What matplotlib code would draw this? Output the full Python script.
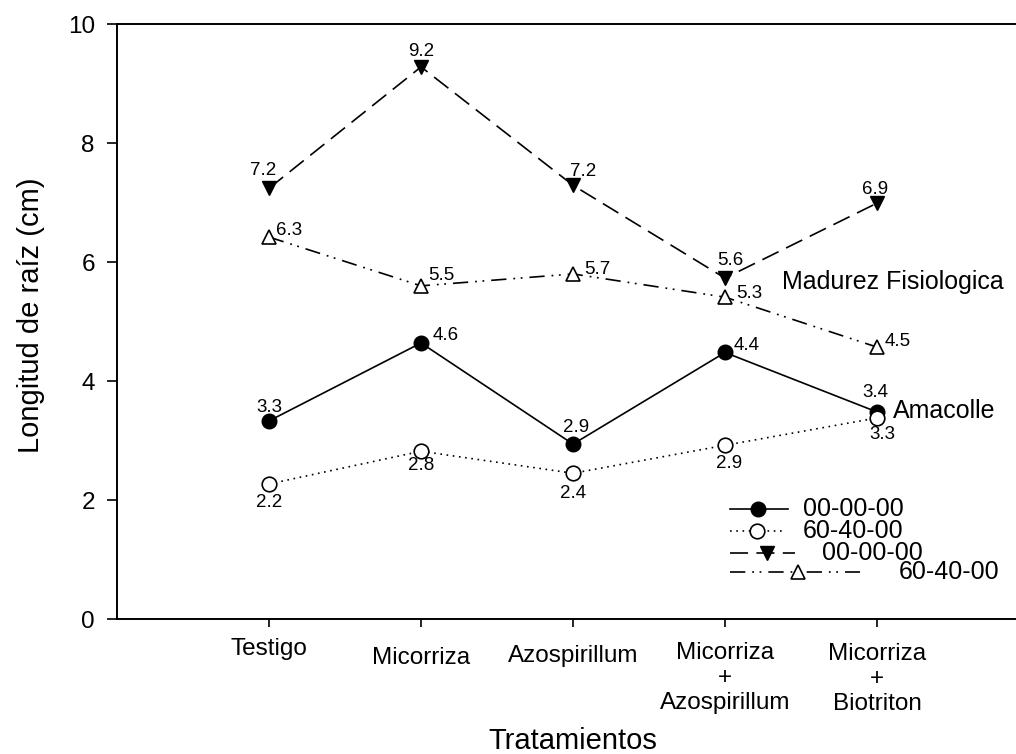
import matplotlib
matplotlib.use("Agg")
import matplotlib.pyplot as plt
import matplotlib.transforms as mtransforms
from matplotlib.lines import Line2D

plt.rcParams["font.family"] = ["Liberation Sans", "DejaVu Sans"]
plt.rcParams["lines.scale_dashes"] = False

# Treatments (x categories)
tratamientos = ["Testigo", "Micorriza", "Azospirillum",
                "Micorriza\n+\nAzospirillum", "Micorriza\n+\nBiotriton"]
x_pos = [1, 2, 3, 4, 5]

# Amacolle
amac_000 = [3.33, 4.64, 2.94, 4.48, 3.48]
amac_000_lbl = ["3.3", "4.6", "2.9", "4.4", "3.4"]
amac_604 = [2.27, 2.82, 2.45, 2.92, 3.38]
amac_604_lbl = ["2.2", "2.8", "2.4", "2.9", "3.3"]

# Madurez fisiologica
mad_000 = [7.24, 9.28, 7.29, 5.73, 6.99]
mad_000_lbl = ["7.2", "9.2", "7.2", "5.6", "6.9"]
mad_604 = [6.42, 5.60, 5.80, 5.41, 4.57]
mad_604_lbl = ["6.3", "5.5", "5.7", "5.3", "4.5"]

legend_labels = ["00-00-00", "60-40-00", "00-00-00", "60-40-00"]

fig = plt.figure(figsize=(10.16, 7.54), dpi=100)
ax = fig.add_axes([0.1152, 0.1790, 0.8976, 0.7891])

lw = 1.2
styles = [
    dict(color="black", lw=lw, ls="-", marker="o", ms=10.5, mfc="black", mec="black"),
    dict(color="black", lw=lw, ls=(0, (1.2, 3.3)), marker="o", ms=10.5, mfc="white", mec="black", mew=1.2),
    dict(color="black", lw=lw, ls=(0, (13, 6)), marker="v", ms=10.5, mfc="black", mec="black"),
    dict(color="black", lw=lw, ls=(0, (11, 5, 1.3, 4, 1.3, 5)), marker="^", ms=10.5, mfc="white", mec="black", mew=1.2),
]
series = [amac_000, amac_604, mad_000, mad_604]
labels = [amac_000_lbl, amac_604_lbl, mad_000_lbl, mad_604_lbl]
# label offsets in pixels (dx, dy) relative to each marker
offsets = [
    [(0, 13), (25, 7), (3, 17), (22, 7), (-2, 19)],
    [(0, -19), (0, -14), (0, -20), (4, -18), (5, -17)],
    [(-6, 18), (0, 15), (10, 14), (5, 18), (-2, 14)],
    [(20, 7), (20, 10), (24, 4), (24, 4), (21, 6)],
]

for vals, lbls, offs, st in zip(series, labels, offsets, styles):
    ax.plot(x_pos, vals, clip_on=False, zorder=3, **st)
    for xi, yi, t, (dx, dy) in zip(x_pos, vals, lbls, offs):
        ax.annotate(t, (xi, yi), xytext=(dx, dy), textcoords="offset pixels",
                    ha="center", va="center", fontsize=13.5)

ax.text(0.729, 0.566, "Madurez Fisiologica", transform=ax.transAxes,
        fontsize=18, ha="left", va="center")
ax.text(0.851, 0.350, "Amacolle", transform=ax.transAxes,
        fontsize=18, ha="left", va="center")

# legend drawn by hand (SigmaPlot style)
leg_rows = [0.185, 0.148, 0.111, 0.079]
leg_line = [(0.672, 0.736), (0.672, 0.732), (0.672, 0.743), (0.672, 0.815)]
leg_mark = [0.703, 0.702, 0.713, 0.747]
leg_text = [0.752, 0.752, 0.773, 0.857]
for yy, (x0, x1), xm, xt, st, lab in zip(leg_rows, leg_line, leg_mark, leg_text, styles, legend_labels):
    line_st = {k: v for k, v in st.items() if k in ("color", "lw", "ls")}
    ax.add_line(Line2D([x0, x1], [yy, yy], transform=ax.transAxes, **line_st))
    ax.add_line(Line2D([xm], [yy], transform=ax.transAxes, ls="none",
                       marker=st["marker"], ms=st["ms"], mfc=st["mfc"],
                       mec=st["mec"], mew=st.get("mew", 1.0)))
    ax.text(xt, yy, lab, transform=ax.transAxes, fontsize=18, ha="left", va="center")

ax.set_xlim(0, 6)
ax.set_ylim(0, 10)
ax.set_yticks([0, 2, 4, 6, 8, 10])
ax.set_xticks(x_pos)
ax.set_xticklabels(tratamientos, fontsize=17.5, linespacing=1.16, ha="center")
ax.tick_params(axis="y", direction="out", length=7, width=1.2, labelsize=17.5, pad=9)
ax.tick_params(axis="x", direction="out", length=6, width=1.2, pad=8)

# SigmaPlot put the single-line labels a bit lower than others
drop_px = [0, 9, 7, 4, 5]
for lab, d in zip(ax.get_xticklabels(), drop_px):
    lab.set_transform(lab.get_transform() +
                      mtransforms.ScaledTranslation(0, -d / 100, fig.dpi_scale_trans))

for side in ["left", "bottom", "top"]:
    ax.spines[side].set_linewidth(1.4)
ax.spines["right"].set_visible(False)

ax.set_ylabel("Longitud de raíz (cm)", fontsize=21)
ax.yaxis.set_label_coords(-0.079, 0.511)
ax.set_xlabel("Tratamientos", fontsize=21)
ax.xaxis.set_label_coords(0.5, -0.181)

fig.savefig("out.png", dpi=100)
